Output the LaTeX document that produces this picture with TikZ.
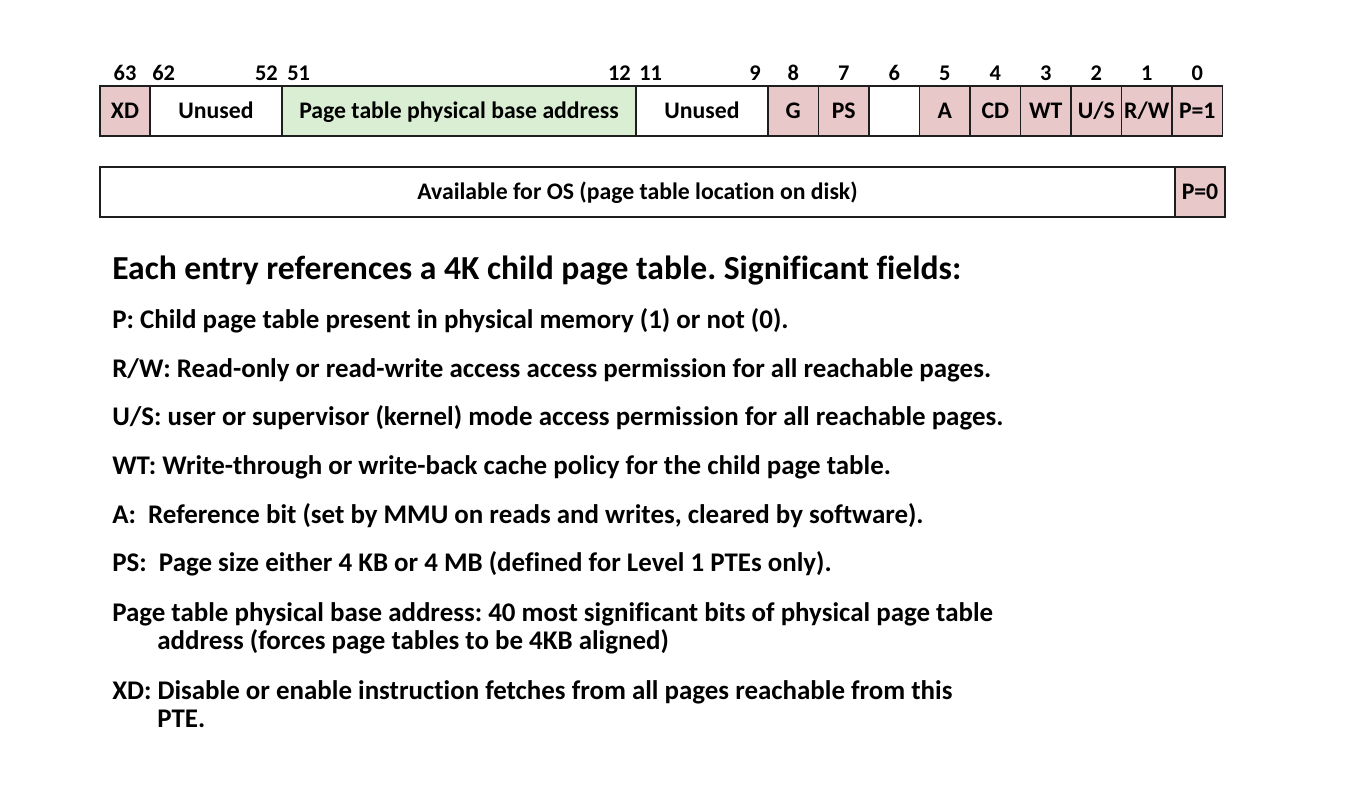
\documentclass[tikz,border=0pt]{standalone}
\usepackage{fontspec}
\setmainfont{Carlito}[Ligatures=NoCommon]
\frenchspacing
\definecolor{flagpink}{RGB}{232,200,200}
\definecolor{addrgreen}{RGB}{217,238,211}
\definecolor{edge}{RGB}{30,30,30}
% one field of the entry: name, left x, right x, top y, fill, label
\newcommand\fieldcell[6]{%
  \node[cell, fill=#5, minimum width={(#3-#2)*0.75pt}] (#1) at (#2,#4) {#6};}
\begin{document}
\begin{tikzpicture}[x=0.75pt,y=-0.75pt,
  cell/.style={draw=edge, line width=1.1pt, anchor=north west,
    minimum height=37.5pt, inner sep=0pt, outer sep=0pt,
    text height=1.1em, text depth=0pt,
    font=\bfseries\fontsize{17.8}{21}\selectfont},
  bitno/.style={font=\bfseries\fontsize{16.8}{20}\selectfont, inner sep=0pt, anchor=base},
  heading/.style={anchor=base west, inner sep=0pt,
    font=\bfseries\fontsize{25.2}{30}\selectfont},
  body/.style={anchor=base west, inner sep=0pt,
    font=\bfseries\fontsize{20.2}{24}\selectfont}]
\useasboundingbox (0,0) rectangle (1362,798);

% present entry (P=1)
\fieldcell{xd}{100}{150}{86}{flagpink}{XD}
\fieldcell{unusedhi}{150}{282}{86}{white}{Unused}
\fieldcell{base}{282}{636}{86}{addrgreen}{Page table physical base address}
\fieldcell{unusedlo}{636}{768}{86}{white}{Unused}
\fieldcell{g}{768}{818.5}{86}{flagpink}{G}
\fieldcell{ps}{818.5}{869}{86}{flagpink}{PS}
\fieldcell{b6}{869}{919.5}{86}{white}{}
\fieldcell{a}{919.5}{970}{86}{flagpink}{A}
\fieldcell{cd}{970}{1020.5}{86}{flagpink}{CD}
\fieldcell{wt}{1020.5}{1071}{86}{flagpink}{WT}
\fieldcell{us}{1071}{1121.5}{86}{flagpink}{U/S}
\fieldcell{rw}{1121.5}{1172}{86}{flagpink}{R/W}
\fieldcell{p}{1172}{1222.5}{86}{flagpink}{P=1}

% bit numbers
\node[bitno] (n63) at (125,81) {63};
\node[bitno, anchor=base west] (n62) at (152,81) {62};
\node[bitno, anchor=base east] (n52) at (278,81) {52};
\node[bitno, anchor=base west] (n51) at (287,81) {51};
\node[bitno, anchor=base east] (n12) at (631,81) {12};
\node[bitno, anchor=base west] (n11) at (639,81) {11};
\node[bitno, anchor=base east] (n9) at (761,81) {9};
\node[bitno] (n8) at (g.center |- 0,81) {8};
\node[bitno] (n7) at (ps.center |- 0,81) {7};
\node[bitno] (n6) at (b6.center |- 0,81) {6};
\node[bitno] (n5) at (a.center |- 0,81) {5};
\node[bitno] (n4) at (cd.center |- 0,81) {4};
\node[bitno] (n3) at (wt.center |- 0,81) {3};
\node[bitno] (n2) at (us.center |- 0,81) {2};
\node[bitno] (n1) at (rw.center |- 0,81) {1};
\node[bitno] (n0) at (p.center |- 0,81) {0};

% not-present entry (P=0)
\fieldcell{os}{100}{1175}{167}{white}{Available for OS (page table location on disk)}
\fieldcell{p0}{1175}{1225}{167}{flagpink}{P=0}

% field descriptions
\node[heading] (h) at (112,280) {Each entry references a 4K child page table. Significant fields:};
\node[body] (dp) at (112,329) {P: Child page table present in physical memory (1) or not (0).};
\node[body] (drw) at (112,377) {R/W: Read-only or read-write access access permission for all reachable pages.};
\node[body] (dus) at (112,425) {U/S: user or supervisor (kernel) mode access permission for all reachable pages.};
\node[body] (dwt) at (112,474) {WT: Write-through or write-back cache policy for the child page table.};
\node[body] (da) at (112,523) {A:\ \ Reference bit (set by MMU on reads and writes, cleared by software).};
\node[body] (dps) at (112,571) {PS:\ \ Page size either 4 KB or 4 MB (defined for Level 1 PTEs only).};
\node[body] (dbase) at (112,621) {Page table physical base address: 40 most significant bits of physical page table};
\node[body] (dbase2) at (157,649) {address (forces page tables to be 4KB aligned)};
\node[body] (dxd) at (112,699) {XD: Disable or enable instruction fetches from all pages reachable from this};
\node[body] (dxd2) at (157,727) {PTE.};
\end{tikzpicture}
\end{document}
